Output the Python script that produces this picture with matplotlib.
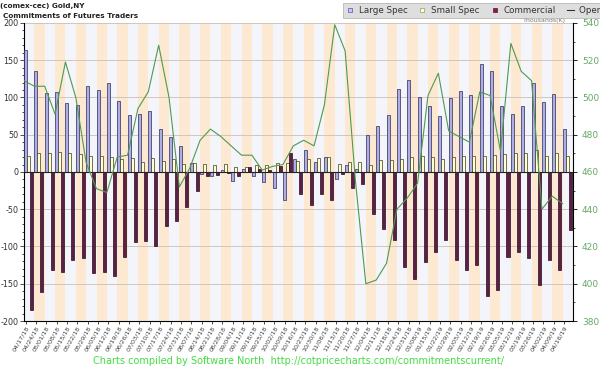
import numpy as np
import matplotlib
matplotlib.use("Agg")
import matplotlib.pyplot as plt
from matplotlib.lines import Line2D

plt.rcParams["axes.unicode_minus"] = False

# weekly report dates
dates = ["04/17/18", "04/24/18", "05/01/18", "05/08/18", "05/15/18", "05/22/18", "05/29/18",
         "06/05/18", "06/12/18", "06/19/18", "06/26/18", "07/03/18", "07/10/18", "07/17/18",
         "07/24/18", "07/31/18", "08/07/18", "08/14/18", "08/21/18", "08/28/18", "09/04/18",
         "09/11/18", "09/18/18", "09/25/18", "10/02/18", "10/09/18", "10/16/18", "10/23/18",
         "10/30/18", "11/06/18", "11/13/18", "11/20/18", "11/27/18", "12/04/18", "12/11/18",
         "12/18/18", "12/24/18", "12/31/18", "01/08/19", "01/15/19", "01/22/19", "01/29/19",
         "02/05/19", "02/12/19", "02/19/19", "02/26/19", "03/05/19", "03/12/19", "03/19/19",
         "03/26/19", "04/02/19", "04/09/19", "04/16/19"]

# net positions, thousands of contracts
large_spec = [163, 136, 106, 107, 92, 90, 115, 110, 120, 95, 76, 78, 82, 57, 47, 35, 12, -3, -6, 2,
              -12, 4, -5, -14, -22, -38, 18, 29, 13, 20, -9, 9, 4, 50, 61, 76, 111, 123, 100, 88,
              75, 99, 109, 103, 145, 135, 88, 78, 88, 120, 94, 105, 57]
small_spec = [22, 26, 26, 27, 26, 24, 21, 22, 20, 18, 19, 14, 19, 15, 17, 11, 12, 11, 10, 11,
              6, 7, 10, 10, 12, 12, 15, 18, 19, 20, 11, 14, 14, 9, 16, 16, 18, 20, 22, 20,
              18, 20, 22, 21, 21, 23, 24, 26, 25, 29, 22, 25, 22]
commercial = [-185, -161, -132, -134, -118, -115, -136, -134, -140, -114, -94, -93, -100, -73,
              -66, -47, -25, -6, -4, -2, -6, 7, 4, 3, 8, 26, -30, -45, -30, -38, -3, -22, -16,
              -57, -76, -91, -128, -144, -121, -107, -91, -118, -132, -125, -166, -158, -114,
              -108, -115, -151, -118, -132, -78]
open_interest = [509, 506, 506, 491, 519, 500, 465, 451, 449, 468, 469, 494, 503, 528, 500, 452,
                 462, 477, 483, 479, 474, 469, 469, 461, 463, 464, 474, 477, 474, 496, 539, 525,
                 455, 400, 402, 411, 440, 446, 454, 501, 513, 482, 479, 476, 503, 501, 471, 529,
                 514, 509, 440, 447, 443]

n = len(dates)
x = np.arange(n)
w = 0.29

fig = plt.figure(figsize=(6, 3.69), dpi=100)
ax = fig.add_axes([0.04, 0.13, 0.915, 0.808])

# alternating week bands
for i in range(n):
    ax.axvspan(i, i + 1, color="#f3f5fb" if i % 2 == 0 else "#fde9d2", lw=0, zorder=0)
for v in range(-150, 201, 50):
    if v != 0:
        ax.axhline(v, color="#cbbfb5", lw=0.6, zorder=1)

ax.bar(x, large_spec, width=w, align="edge", color="#aeaee6", edgecolor="#2a2a55", lw=0.5, zorder=3)
ax.bar(x + w, small_spec, width=w, align="edge", color="#ffffd2", edgecolor="#3a3a20", lw=0.5, zorder=3)
ax.bar(x + 2 * w, commercial, width=w, align="edge", color="#5c1f45", edgecolor="#2a0a1e", lw=0.5, zorder=3)
ax.axhline(0, color="#222222", lw=0.8, zorder=4)

ax.set_xlim(0, n)
ax.set_ylim(-200, 200)
ax.set_yticks(range(-200, 201, 50))
ax.set_yticks(range(-200, 201, 10), minor=True)
ax.tick_params(axis="y", labelsize=5.8, colors="#333333", length=3, width=0.6, pad=1.2)
ax.tick_params(axis="y", which="minor", length=1.5, width=0.5)
ax.set_xticks(x + 0.15)
ax.set_xticklabels(dates, rotation=60, ha="right", rotation_mode="anchor", fontsize=4.6, color="#444444")
ax.tick_params(axis="x", length=2, width=0.5, pad=1)
for s in ["top", "right"]:
    ax.spines[s].set_visible(False)
ax.spines["left"].set_linewidth(0.8)
ax.spines["bottom"].set_linewidth(0.8)

ax2 = ax.twinx()
ax2.plot(x, open_interest, color="#4f9a4f", lw=0.8, zorder=5)
ax2.set_ylim(380, 540)
ax2.set_yticks(range(380, 541, 20))
ax2.set_yticks(range(380, 541, 10), minor=True)
ax2.tick_params(axis="y", labelsize=6.5, labelcolor="#66aa66", length=3, width=0.6)
ax2.tick_params(axis="y", which="minor", length=1.5, width=0.5)
for s in ["top", "left", "bottom"]:
    ax2.spines[s].set_visible(False)
ax2.spines["right"].set_linewidth(0.8)

fig.text(0.0, 0.992, "(comex-cec) Gold,NY", fontsize=5.2, fontweight="bold", va="top", color="#222222")
fig.text(0.005, 0.965, "Commitments of Futures Traders", fontsize=5.2, fontweight="bold", va="top", color="#222222")
fig.text(0.872, 0.945, "Thousands(K)", fontsize=4.5, color="#777777", va="center", ha="left")
fig.text(0.497, 0.022, "Charts compiled by Software North  http://cotpricecharts.com/commitmentscurrent/",
         fontsize=7, color="#44dd44", ha="center", va="center")

handles = [
    Line2D([], [], marker="s", ls="none", markersize=3.5, markerfacecolor="#c8c8f2", markeredgecolor="#6666bb", mew=0.6),
    Line2D([], [], marker="s", ls="none", markersize=3.5, markerfacecolor="#ffffe0", markeredgecolor="#aaaa66", mew=0.6),
    Line2D([], [], marker="s", ls="none", markersize=3.5, markerfacecolor="#7a1f4f", markeredgecolor="#7a1f4f", mew=0.6),
    Line2D([], [], color="#333333", lw=0.8),
]
leg = fig.legend(handles, ["Large Spec", "Small Spec", "Commercial", "Open Interest"], ncol=4,
                 loc="upper left", bbox_to_anchor=(0.565, 1.005), fontsize=6.3, frameon=True,
                 fancybox=False, handlelength=0.8, handletextpad=0.6, columnspacing=1.3,
                 borderpad=0.35, labelcolor="#333333")
leg.get_frame().set_facecolor("#d6d6d6")
leg.get_frame().set_edgecolor("#aaaaaa")
leg.get_frame().set_linewidth(0.6)

fig.savefig("out.png", dpi=100)
